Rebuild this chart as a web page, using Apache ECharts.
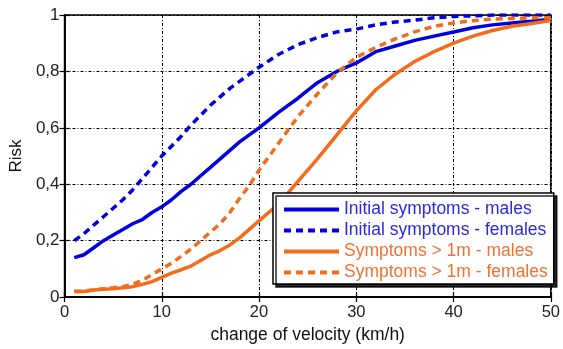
<!DOCTYPE html>
<html>
<head>
<meta charset="utf-8">
<script src="https://cdn.jsdelivr.net/npm/echarts@6/dist/echarts.min.js"></script>
<style>
html,body{margin:0;padding:0;background:#fff;}
#chart{width:563px;height:349px;}
</style>
</head>
<body>
<div id="chart"></div>
<script>
// change of velocity (km/h)
const velocity = [1,2,3,4,5,6,7,8,9,10,11,12,13,14,15,16,17,18,19,20,22,24,26,28,30,32,34,36,38,40,42,44,46,48,50];

// risk curves
const initialMales = [0.14,0.15,0.175,0.20,0.22,0.24,0.26,0.275,0.30,0.32,0.345,0.375,0.40,0.43,0.46,0.49,0.52,0.55,0.575,0.60,0.655,0.705,0.76,0.80,0.83,0.87,0.89,0.91,0.925,0.94,0.955,0.965,0.972,0.978,0.985];
const initialFemales = [0.20,0.225,0.255,0.285,0.315,0.345,0.38,0.42,0.46,0.50,0.535,0.57,0.61,0.645,0.68,0.71,0.74,0.765,0.79,0.815,0.86,0.895,0.92,0.94,0.95,0.965,0.975,0.982,0.99,0.995,0.997,1.0,1.0,1.0,1.0];
const lateMales = [0.02,0.02,0.025,0.028,0.03,0.033,0.037,0.045,0.055,0.07,0.085,0.097,0.11,0.13,0.15,0.165,0.185,0.21,0.24,0.27,0.33,0.41,0.49,0.575,0.66,0.735,0.79,0.835,0.87,0.90,0.925,0.945,0.96,0.97,0.98];
const lateFemales = [0.02,0.022,0.025,0.03,0.033,0.037,0.045,0.06,0.08,0.10,0.12,0.145,0.17,0.20,0.23,0.26,0.30,0.35,0.395,0.45,0.545,0.64,0.72,0.795,0.85,0.885,0.915,0.94,0.96,0.972,0.98,0.985,0.988,0.99,0.99];

const seriesNames = ['Initial symptoms - males','Initial symptoms - females','Symptoms > 1m - males','Symptoms > 1m - females'];

const BLUE = '#0000dd';
const ORANGE = '#f36c1c';
const FONT = 'Liberation Sans, Arial, sans-serif';

const pairs = ys => velocity.map((v,i)=>[v, ys[i]]);

const gridLine = {show:true, lineStyle:{color:'#000', width:1, type:[3,2,1,2]}};
const frameLine = {show:true, lineStyle:{color:'#000', width:1.5}};
const innerTick = {show:true, inside:true, length:5, lineStyle:{color:'#000', width:1.2}};

const chart = echarts.init(document.getElementById('chart'), null, {renderer:'canvas'});

function lineSeries(name, ys, color, dashed){
  return {
    name, type:'line', data:pairs(ys), xAxisIndex:0, yAxisIndex:0,
    showSymbol:false, symbol:'none', smooth:false, z:3,
    lineStyle:{color, width:3.5, type: dashed ? [7,5] : 'solid'},
    itemStyle:{color}
  };
}

chart.setOption({
  animation:false,
  backgroundColor:'#fff',
  grid:{left:63, right:11, top:15, bottom:51, show:true, borderColor:'#000', borderWidth:1.5, backgroundColor:'transparent'},
  xAxis:[{
    type:'value', min:0, max:50, interval:10,
    axisLine:frameLine, axisTick:innerTick,
    axisLabel:{color:'#222', fontFamily:FONT, fontSize:16.5, margin:7},
    splitLine:gridLine,
    name:'change of velocity (km/h)', nameLocation:'middle', nameGap:28,
    nameTextStyle:{color:'#111', fontFamily:FONT, fontSize:17.5}
  },{
    type:'value', min:0, max:50, interval:10, position:'top',
    axisLine:frameLine, axisTick:innerTick,
    axisLabel:{show:false}, splitLine:{show:false}
  }],
  yAxis:[{
    type:'value', min:0, max:1, interval:0.2,
    axisLine:frameLine, axisTick:innerTick,
    axisLabel:{color:'#222', fontFamily:FONT, fontSize:17, margin:5,
      formatter:v => String(Math.round(v*10)/10).replace('.', ',')},
    splitLine:gridLine,
    name:'Risk', nameLocation:'middle', nameGap:38, nameRotate:90,
    nameTextStyle:{color:'#111', fontFamily:FONT, fontSize:17}
  },{
    type:'value', min:0, max:1, interval:0.2, position:'right',
    axisLine:frameLine, axisTick:innerTick,
    axisLabel:{show:false}, splitLine:{show:false}
  }],
  legend:{
    left:273, top:193, orient:'vertical',
    backgroundColor:'#fff', borderColor:'#000', borderWidth:1.5,
    shadowColor:'rgba(0,0,0,0.85)', shadowBlur:0, shadowOffsetX:3, shadowOffsetY:3,
    padding:[6, 6, 1, 9], itemGap:0, itemWidth:55, itemHeight:14,
    itemStyle:{opacity:0},
    lineStyle:{width:4},
    textStyle:{fontFamily:FONT, fontSize:17.5, lineHeight:21},
    data:[
      {name:seriesNames[0], textStyle:{color:'#2a2ae0'}},
      {name:seriesNames[1], textStyle:{color:'#2a2ae0'}},
      {name:seriesNames[2], textStyle:{color:'#f27030'}},
      {name:seriesNames[3], textStyle:{color:'#f27030'}}
    ]
  },
  series:[
    lineSeries(seriesNames[0], initialMales, BLUE, false),
    lineSeries(seriesNames[1], initialFemales, BLUE, true),
    lineSeries(seriesNames[2], lateMales, ORANGE, false),
    lineSeries(seriesNames[3], lateFemales, ORANGE, true)
  ]
});
</script>
</body>
</html>
